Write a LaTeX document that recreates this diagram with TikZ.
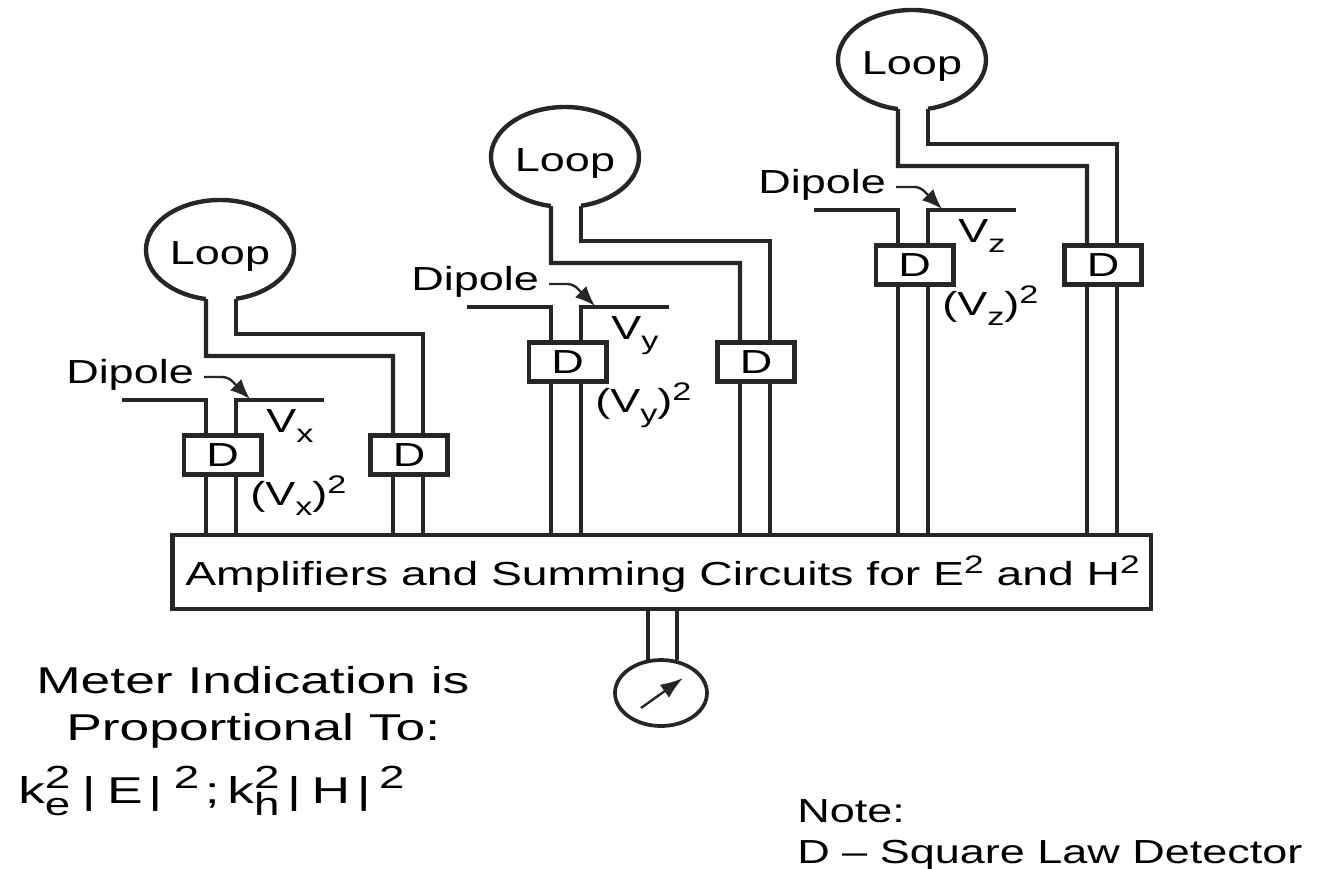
\documentclass[tikz,border=0pt]{standalone}
\usepackage{graphicx}
\usepackage{fontspec}
\setmainfont{Liberation Sans}
\usetikzlibrary{arrows.meta,shapes.geometric}
\newcommand\wtxt[1]{\scalebox{1.35}[1]{\fontsize{25}{30}\selectfont #1}}
\newcommand\wbig[1]{\scalebox{1.43}[1]{\fontsize{28}{34}\selectfont #1}}
\newcommand\smalltxt{\fontsize{19}{20}\selectfont}
\newcommand\bigsmall{\fontsize{24}{26}\selectfont}
\newcommand\supa{\raisebox{9pt}{\smalltxt 2}}
\newcommand\kterm[1]{k\rlap{\raisebox{-9pt}{\bigsmall #1}}\raisebox{11pt}{\bigsmall 2}}
\definecolor{ink}{gray}{0.15}
\tikzset{
  wire/.style={draw=ink,line width=3.3pt,line join=miter},
  thin wire/.style={draw=ink,line width=2.6pt},
  det/.style={draw=ink,line width=3.5pt,fill=white,minimum width=58pt,minimum height=29pt,inner sep=0pt},
  lab/.style={inner sep=0pt,anchor=base west},
  mainbox/.style={draw=ink,line width=3.5pt,fill=white,minimum width=734pt,minimum height=55.5pt,inner sep=0pt},
  loopname/.style={inner sep=0pt,minimum width=111pt,minimum height=75pt},
  tiparrow/.style={draw=ink,line width=1.8pt,-{Latex[length=15pt,width=12pt]}}
}
\begin{document}
\begin{tikzpicture}[x=0.75pt,y=-0.75pt]
\useasboundingbox (0,0) rectangle (1318,868);
\node[mainbox] (main) at (661.5,572) {};
\node[lab] (maintext) at (185,585) {\scalebox{1.028}[1]{\wtxt{Amplifiers and Summing Circuits for E\supa{} and H\supa}}};
\foreach \n/\ox/\oy/\f in {x/206/400/187,y/551/307/189,z/898/210/189}{
  \begin{scope}[shift={(\ox,\oy)}]
    \node[det] (dn\n) at (16.5,55) {\wtxt{D}};
    \node[det] (df\n) at (\f+16,55) {\wtxt{D}};
    \node[loopname] (loop\n) at (14,-144) {\wtxt{Loop}};
    \node[lab] (dip\n) at (-140,-17) {\wtxt{Dipole}};
    \node[lab] (v\n) at (60,32) {\wtxt{V\raisebox{-8pt}{\smalltxt \n}}};
    \node[lab] (vs\n) at (44,105) {\wtxt{(V\raisebox{-8pt}{\smalltxt \n})\supa}};
    \coordinate (ae\n) at (0,-101);
    \coordinate (ar\n) at (30,-101.2);
    \coordinate (fl\n) at (\f,35);
    \coordinate (fr\n) at (\f+30,35);
    \coordinate (el\n) at (0,-44);
    \coordinate (er\n) at (30,-66);
    \coordinate (dl\n) at (-84,0);
    \coordinate (dr\n) at (118,0);
    \coordinate (s\n) at (-2,-23);
    \coordinate (b\n) at (22,-23);
    \coordinate (t\n) at (44,-1);
    % far pair and loop: one line from detector to detector
    \draw[wire] (fl\n) |- (el\n) -- (ae\n) (ar\n) arc[start angle=77.5,end angle=-259,x radius=74,y radius=50];
    \draw[wire] (ar\n) -- (er\n) -| (fr\n);
    % dipole
    \draw[wire] (dl\n) -- (0,0) -- (dn\n.north -| el\n);
    \draw[wire] (dr\n) -- (30,0) -- (dn\n.north -| er\n);
    % lower leads
    \draw[wire] (dn\n.south -| el\n) -- (main.north -| el\n);
    \draw[wire] (dn\n.south -| er\n) -- (main.north -| er\n);
    \draw[wire] (df\n.south -| fl\n) -- (main.north -| fl\n);
    \draw[wire] (df\n.south -| fr\n) -- (main.north -| fr\n);
    \draw[tiparrow,rounded corners=4pt] (s\n) -- (b\n) -- (t\n);
    \node[det] at (dn\n) {\wtxt{D}};
    \node[det] at (df\n) {\wtxt{D}};
  \end{scope}
}
\node[draw=ink,line width=2.8pt,ellipse,minimum width=69pt,minimum height=49.5pt,inner sep=0pt] (meter) at (661,693) {};
\coordinate (ml) at (648,660);
\coordinate (mr) at (677,660);
\draw[wire] (main.south -| ml) -- (ml);
\draw[wire] (main.south -| mr) -- (mr);
\coordinate (pa) at (641,708);
\coordinate (pb) at (683,678);
\draw[thin wire,line width=1.8pt,-{Latex[length=17pt,width=12pt]}] (pa) -- (pb);
\node[lab] (m1) at (36,693) {\wbig{Meter Indication is}};
\node[lab] (m2) at (66,740) {\wbig{Proportional To:}};
\node[lab] (m3) at (18,803) {\wbig{\kterm{e}\kern6pt|\kern6pt E\kern3pt|\kern6pt\raisebox{11pt}{\bigsmall 2}\kern3pt;\kern4pt\kterm{h}\kern4pt|\kern5.5pt H\kern3.5pt|\kern4.5pt\raisebox{11pt}{\bigsmall 2}}};
\node[lab] (n1) at (797,822) {\wtxt{Note:}};
\node[lab] (n2) at (797,863) {\wtxt{D -- Square Law Detector}};
\end{tikzpicture}
\end{document}
